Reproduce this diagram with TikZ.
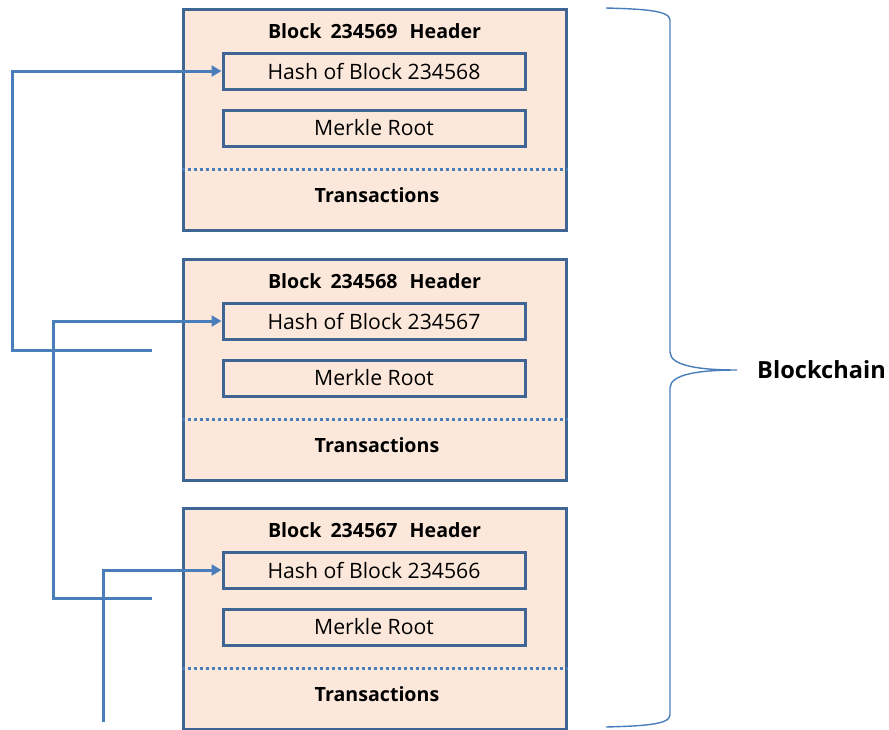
\documentclass[tikz,border=0pt]{standalone}
\usepackage{fontspec}
\setmainfont{Open Sans}
\usetikzlibrary{arrows.meta}
\definecolor{bordc}{HTML}{3E6594}
\definecolor{connc}{HTML}{4A7EBB}
\definecolor{fillc}{HTML}{FCE8DA}
\tikzset{
  blk/.style={draw=bordc, line width=3pt, fill=fillc, minimum width=383pt, minimum height=221pt, inner sep=0pt},
  fld/.style={draw=bordc, line width=3pt, minimum width=302pt, minimum height=36pt, inner sep=0pt, font=\fontsize{21.2}{24}\selectfont},
  hdr/.style={font=\bfseries\fontsize{19.6}{24}\selectfont, inner sep=0pt},
  sep/.style={draw=connc, line width=3pt, dash pattern=on 3pt off 3pt},
  conn/.style={draw=connc, line width=3pt},
  arr/.style={conn, -{Triangle[length=10pt,width=11pt]}},
  brace/.style={draw=connc, line width=1.4pt}
}
\begin{document}
\begin{tikzpicture}[x=1pt,y=-1pt]
\useasboundingbox[fill=white] (0,0) rectangle (889,729);
% blocks
\foreach \i/\dy/\n/\p in {1/0/234569/234568, 2/250/234568/234567, 3/499/234567/234566}{
  \node[blk] (b\i) at (374.5,120+\dy) {};
  \node[hdr] (t\i) at (374.5,31+\dy) {Block\hspace{9pt}\n\hspace{12pt}Header};
  \node[fld] (h\i) at (374,71+\dy) {Hash of Block \p};
  \node[fld] (m\i) at (374,128+\dy) {Merkle Root};
  \draw[sep] (b\i.west |- 0,169+\dy) -- (b\i.east |- 0,169+\dy);
  \node[hdr] (x\i) at (377,195+\dy) {Transactions};
}
% connectors
\coordinate (c1) at (152,350);
\coordinate (c2) at (152,598);
\coordinate (c3) at (103,722);
\draw[arr] (c1) -- (12,350) |- (h1.west);
\draw[arr] (c2) -- (53,598) |- (h2.west);
\draw[arr] (c3) |- (h3.west);
% brace
\coordinate (bt) at (606,8);
\coordinate (bb) at (606,727);
\coordinate (tip) at (737,370);
\draw[brace] (bt) .. controls (640,9) and (670,10) .. (670,20)
  -- (670,352) .. controls (670,366) and (700,370) .. (tip)
  .. controls (700,370) and (670,374) .. (670,388)
  -- (670,715) .. controls (670,725) and (640,726) .. (bb);
\node[font=\bfseries\fontsize{23.6}{28}\selectfont, anchor=west, inner sep=0pt] (lbl) at (757,370) {Blockchain};
\end{tikzpicture}
\end{document}
